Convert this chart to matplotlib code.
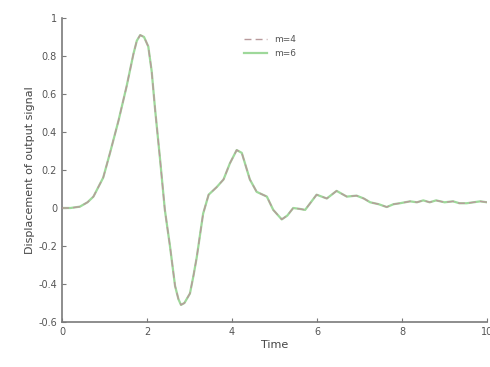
import matplotlib.pyplot as plt

# datos
tiempo = [0, 0.2, 0.42, 0.6, 0.74, 0.97, 1.13, 1.33, 1.52, 1.68, 1.76, 1.84, 1.93,
          2.03, 2.11, 2.19, 2.31, 2.42, 2.54, 2.66, 2.74, 2.8, 2.88, 3.01, 3.09,
          3.17, 3.32, 3.45, 3.64, 3.8, 3.95, 4.11, 4.23, 4.42, 4.58, 4.82, 4.97, 5.17,
          5.3, 5.44, 5.6, 5.72, 5.99, 6.23, 6.46, 6.7, 6.93, 7.1, 7.25, 7.45, 7.64,
          7.8, 7.95, 8.19, 8.35, 8.5, 8.65, 8.8, 9.0, 9.2, 9.35, 9.52, 9.68, 9.84, 10.0]
desp_m4 = [0, 0.0, 0.007, 0.03, 0.06, 0.16, 0.29, 0.46, 0.64, 0.81, 0.88, 0.91, 0.90,
           0.85, 0.72, 0.52, 0.25, -0.01, -0.2, -0.41, -0.48, -0.51, -0.50, -0.45,
           -0.36, -0.26, -0.03, 0.07, 0.11, 0.15, 0.235, 0.305, 0.29, 0.15, 0.085, 0.06,
           -0.01, -0.06, -0.04, 0.0, -0.005, -0.01, 0.07, 0.05, 0.09, 0.06, 0.065, 0.05,
           0.03, 0.02, 0.005, 0.02, 0.025, 0.035, 0.03, 0.04, 0.03, 0.04, 0.03, 0.035,
           0.025, 0.025, 0.03, 0.035, 0.03]
desp_m6 = list(desp_m4)
etiquetas = ["m=4", "m=6"]

gris = "#7a7a7a"

fig = plt.figure(figsize=(4.9, 3.67), dpi=100)
ax = fig.add_axes([0.1265, 0.1226, 0.8675, 0.8284])

l6, = ax.plot(tiempo, desp_m6, color="#9ed89a", lw=1.6, zorder=2)
l4, = ax.plot(tiempo, desp_m4, color="#b89a9c", lw=1.0, ls=(0, (5, 3)), zorder=3)

ax.set_xlim(0, 10)
ax.set_ylim(-0.6, 1)
ax.set_xticks([0, 2, 4, 6, 8, 10])
ax.set_yticks([-0.6, -0.4, -0.2, 0, 0.2, 0.4, 0.6, 0.8, 1])
ax.set_yticklabels(["-0.6", "-0.4", "-0.2", "0", "0.2", "0.4", "0.6", "0.8", "1"])

for s in ["top", "right"]:
    ax.spines[s].set_visible(False)
for s in ["left", "bottom"]:
    ax.spines[s].set_color(gris)
    ax.spines[s].set_linewidth(1.2)
ax.tick_params(direction="in", length=3, color=gris, labelcolor="#555555", labelsize=7)

ax.set_xlabel("Time", fontsize=8, color="#444444", labelpad=2)
ax.set_ylabel("Displacement of output signal", fontsize=8, color="#444444", labelpad=2)

leg = ax.legend([l4, l6], etiquetas, loc="upper left", bbox_to_anchor=(0.41, 0.97),
                frameon=False, fontsize=6.5, handlelength=2.5)
for t in leg.get_texts():
    t.set_color("#555555")

fig.savefig("out.png", dpi=100)
